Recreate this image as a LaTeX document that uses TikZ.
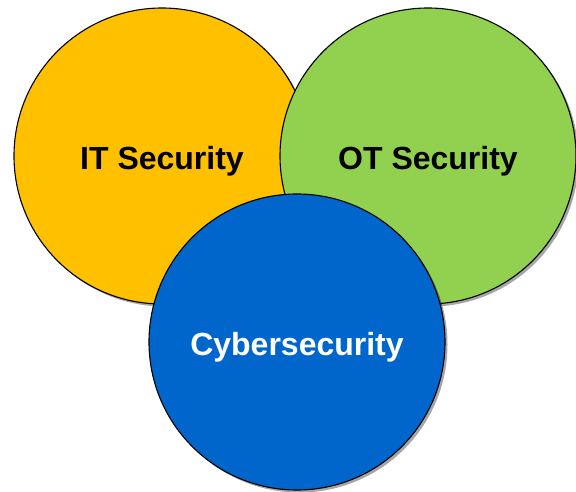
\documentclass[tikz,border=0pt]{standalone}
\usepackage{fontspec}
\setmainfont{Liberation Sans}
\usetikzlibrary{shadows}

\definecolor{itYellow}{HTML}{FFC000}
\definecolor{otGreen}{HTML}{92D050}
\definecolor{cyberBlue}{HTML}{0066CC}

% label text, baseline a little below the circle centre
\newcommand{\arealabel}[1]{\raisebox{-13.5pt}[0pt][0pt]{#1}}

\begin{document}
\begin{tikzpicture}[x=1pt, y=1pt,
        area/.style={circle, draw=black, line width=1.1pt, minimum size=296pt, inner sep=0pt,
            font=\fontsize{32}{38}\selectfont\bfseries,
            drop shadow={shadow xshift=2.5pt, shadow yshift=-2.5pt, opacity=0.35, fill=black}}]
        % Fix the page size
        \useasboundingbox (0,0) rectangle (576,491);

        % IT Security (left)
        \node[area, fill=itYellow] (it) at (162,335) {\arealabel{IT Security}};

        % OT Security (right)
        \node[area, fill=otGreen] (ot) at (428,335) {\arealabel{OT Security}};

        % Cybersecurity (bottom, on top)
        \node[area, fill=cyberBlue, text=white] (cyber) at (297,149) {\arealabel{Cybersecurity}};
    \end{tikzpicture}
\end{document}
